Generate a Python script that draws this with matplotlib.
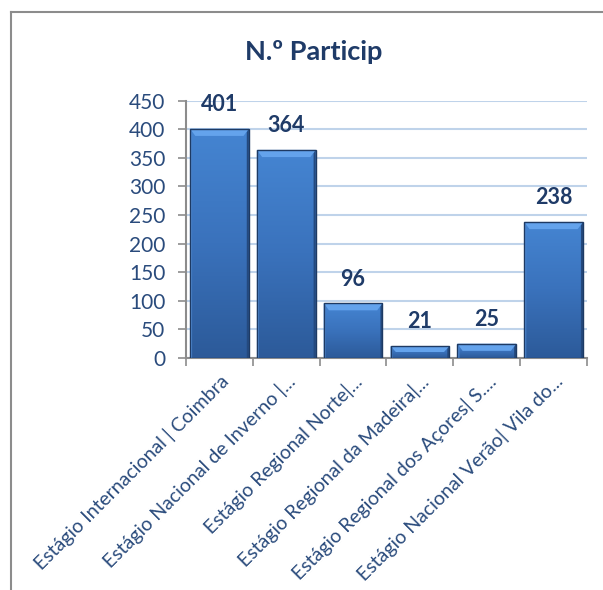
import matplotlib
matplotlib.use("Agg")
import matplotlib.pyplot as plt
from matplotlib.patches import Polygon
from matplotlib.lines import Line2D
from matplotlib.colors import LinearSegmentedColormap
import numpy as np

categories = ["Estágio Internacional | Coimbra",
              "Estágio Nacional de Inverno |...",
              "Estágio Regional Norte|...",
              "Estágio Regional da Madeira|...",
              "Estágio Regional dos Açores| S....",
              "Estágio Nacional Verão| Vila do..."]
values = [401, 364, 96, 21, 25, 238]
yticks = [0, 50, 100, 150, 200, 250, 300, 350, 400, 450]

plt.rcParams['font.family'] = ['Lato', 'DejaVu Sans']
text_color = '#2A4B7C'
label_color = '#1F3B68'

fig = plt.figure(figsize=(6.03, 5.90), dpi=100)
ax = fig.add_axes([186/603, 1-358/590, (587-186)/603, (358-100.7)/590])

x = np.arange(len(categories))
bars = ax.bar(x, values, width=0.88, color='none', edgecolor='#1E3A63',
              linewidth=1.0, zorder=4)

grad = LinearSegmentedColormap.from_list('g', ['#2C5A99', '#3A72BC', '#4585D2'])
ymax = 450
for b in bars:
    x0, w, h = b.get_x(), b.get_width(), b.get_height()
    g = np.linspace(0, 1, 256).reshape(-1, 1)
    im = ax.imshow(g, cmap=grad, aspect='auto', origin='lower',
                   extent=[x0, x0 + w, 0, h], zorder=3, interpolation='bilinear')
    im.set_clip_path(b)
    bev_y = min(h * 0.5, ymax * 0.028)
    bev_x = w * 0.09
    ax.add_patch(Polygon([[x0, h], [x0 + w, h], [x0 + w - bev_x, h - bev_y], [x0 + bev_x, h - bev_y]],
                         closed=True, facecolor='#64A3EC', edgecolor='none', zorder=3.5))
    side = w * 0.035
    ax.add_patch(Polygon([[x0, 0], [x0, h], [x0 + side, h - bev_y * 0.5], [x0 + side, 0]],
                         closed=True, facecolor='#4F8AD4', edgecolor='none', zorder=3.5))
    ax.add_patch(Polygon([[x0 + w, 0], [x0 + w, h], [x0 + w - side, h - bev_y * 0.5], [x0 + w - side, 0]],
                         closed=True, facecolor='#24497E', edgecolor='none', zorder=3.5))
    ax.text(x0 + w / 2, h + 42, f"{int(h)}", ha='center', va='center',
            fontsize=15.5, fontweight='bold', color=label_color, zorder=5)

ax.set_xlim(-0.5, len(categories) - 0.5)
ax.set_ylim(0, 450)
ax.set_yticks(yticks)
ax.set_yticklabels([str(t) for t in yticks], fontsize=15, color=text_color)
ax.yaxis.grid(True, color='#BFD3EA', linewidth=1.5, zorder=0)
ax.set_axisbelow(True)

ax.set_xticks(x)
ax.set_xticklabels(categories, rotation=45, ha='right', rotation_mode='anchor',
                   fontsize=14, color=text_color)
ax.tick_params(axis='x', length=0, pad=10)
ax.set_xticks(np.arange(-0.5, len(categories), 1.0), minor=True)
ax.tick_params(axis='x', which='minor', length=6, color='#8C8C8C', width=1.2)
ax.tick_params(axis='y', length=6, color='#8C8C8C', width=1.2, pad=9)

for s in ['top', 'right']:
    ax.spines[s].set_visible(False)
for s in ['left', 'bottom']:
    ax.spines[s].set_color('#8C8C8C')
    ax.spines[s].set_linewidth(1.5)

fig.text(314/603, 1-52/590, "N.º Particip", ha='center', va='center',
         fontsize=19.5, fontweight='bold', color=label_color)

fig.add_artist(Line2D([10.5/603, 10.5/603], [0, 1-11.5/590], transform=fig.transFigure,
                      color='#8C8C8C', linewidth=1.5))
fig.add_artist(Line2D([10.5/603, 1], [1-11.5/590, 1-11.5/590], transform=fig.transFigure,
                      color='#8C8C8C', linewidth=1.5))

fig.savefig("out.png", dpi=100)
